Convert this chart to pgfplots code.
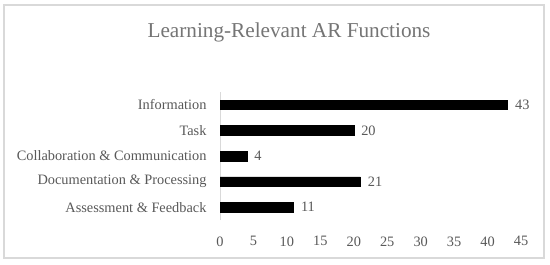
\documentclass[border=0pt]{standalone}
\usepackage{fontspec}
\setmainfont{Liberation Serif}
\usepackage{pgfplots}
\pgfplotsset{compat=1.18}
\definecolor{txtgray}{HTML}{595959}
\definecolor{titlegray}{HTML}{757575}
\definecolor{framegray}{HTML}{D9D9D9}
\begin{document}
\begin{tikzpicture}[x=1bp,y=1bp]
\fill[white] (0,0) rectangle (550,264);
\draw[framegray, line width=1.2bp] (4,6) rectangle (544,259);
\node[titlegray, font=\fontsize{21.3}{23}\selectfont] at (289,232) {Learning-Relevant AR Functions};
\begin{axis}[
  at={(220bp,44bp)}, anchor=south west,
  scale only axis,
  width=301bp, height=128bp,
  xbar, bar width=9.5bp,
  xmin=0, xmax=45, ymin=-0.5, ymax=4.5,
  xtick={0,5,...,45},
  ytick={0,1,2,3,4},
  yticklabels={Assessment \& Feedback, Documentation \& Processing, Collaboration \& Communication, Task, Information},
  axis x line*=bottom,
  axis y line*=left,
  x axis line style={draw=none, -},
  y axis line style={framegray, line width=0.8bp, -},
  major tick length=0pt,
  /pgf/number format/assume math mode=true,
  yticklabel style={txtgray, font=\fontsize{14.4}{16}\selectfont, xshift=-10bp},
  xticklabel style={txtgray, font=\fontsize{14.4}{16}\selectfont, yshift=-13bp},
  nodes near coords,
  nodes near coords style={txtgray, font=\fontsize{14.4}{16}\selectfont, xshift=4bp},
  clip=false,
]
\addplot[fill=black, draw=black] coordinates {(11,0) (21,1) (4,2) (20,3) (43,4)};
\end{axis}
\end{tikzpicture}
\end{document}
